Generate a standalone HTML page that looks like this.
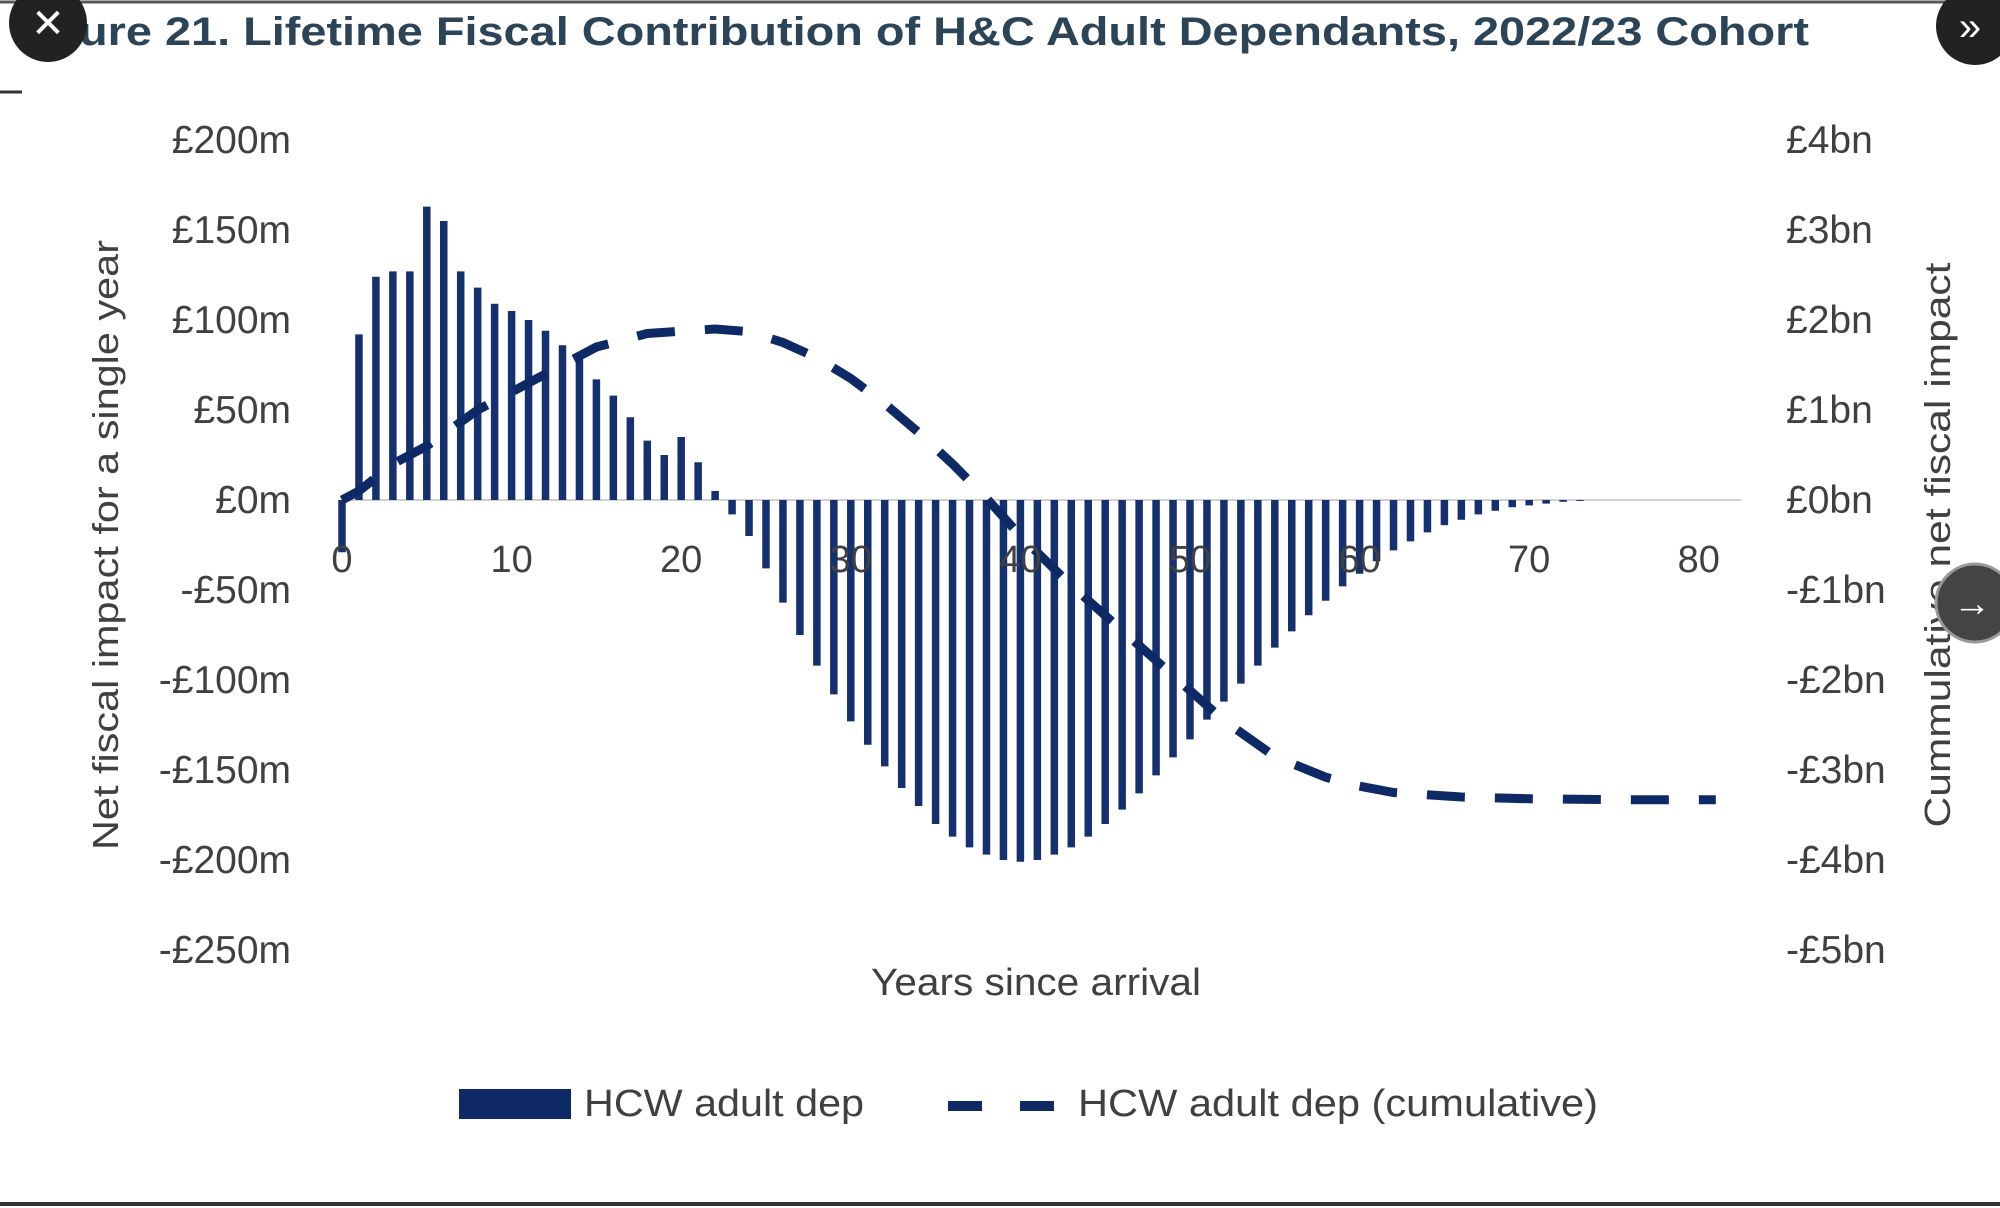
<!DOCTYPE html>
<html><head><meta charset="utf-8"><style>
html,body{margin:0;padding:0;background:#fff;}
svg{display:block}
text{font-family:"Liberation Sans",sans-serif;}
</style></head><body>
<svg id="s" width="2000" height="1208" viewBox="0 0 2000 1208" xmlns="http://www.w3.org/2000/svg">
<rect width="2000" height="1208" fill="#fff"/>
<line x1="0" y1="2" x2="2000" y2="2" stroke="#555" stroke-width="3"/>
<line x1="0" y1="1204" x2="2000" y2="1204" stroke="#333" stroke-width="4"/>
<line x1="0" y1="92" x2="22" y2="92" stroke="#333" stroke-width="3"/>
<text x="79" y="45" font-size="40" font-weight="bold" fill="#2b4457" textLength="1730" lengthAdjust="spacingAndGlyphs">ure 21. Lifetime Fiscal Contribution of H&amp;C Adult Dependants, 2022/23 Cohort</text>
<line x1="342" y1="500" x2="1741" y2="500" stroke="#d0d0d0" stroke-width="2"/>
<g id="bars" stroke="#15306e" stroke-width="7.5"></g>
<path id="cum" fill="none" stroke="#0e2a66" stroke-width="9" stroke-dasharray="38,30"/>
<g font-size="39" fill="#404040" text-anchor="end" id="ly"></g>
<g font-size="39" fill="#404040" text-anchor="start" id="ry"></g>
<g font-size="38" fill="#404040" text-anchor="middle" id="xl"></g>
<text x="1036" y="995" font-size="38" fill="#404040" text-anchor="middle" textLength="330" lengthAdjust="spacingAndGlyphs">Years since arrival</text>
<text transform="translate(118,545) rotate(-90)" font-size="36" fill="#404040" text-anchor="middle" textLength="610" lengthAdjust="spacingAndGlyphs">Net fiscal impact for a single year</text>
<text transform="translate(1950,545) rotate(-90)" font-size="36" fill="#404040" text-anchor="middle" textLength="565" lengthAdjust="spacingAndGlyphs">Cummulative net fiscal impact</text>
<rect x="459" y="1089" width="112" height="30" fill="#0e2a66"/>
<text x="584" y="1116" font-size="38" fill="#404040" textLength="280" lengthAdjust="spacingAndGlyphs">HCW adult dep</text>
<line x1="948" y1="1106" x2="1054" y2="1106" stroke="#0e2a66" stroke-width="10" stroke-dasharray="34,38"/>
<text x="1078" y="1116" font-size="38" fill="#404040" textLength="520" lengthAdjust="spacingAndGlyphs">HCW adult dep (cumulative)</text>
<circle cx="48" cy="23" r="39" fill="#222"/>
<text x="48" y="37" font-size="40" fill="#fff" text-anchor="middle">✕</text>
<circle cx="1975" cy="26" r="39" fill="#222"/>
<text x="1970" y="40" font-size="40" fill="#fff" text-anchor="middle">»</text>
<circle cx="1975" cy="603" r="39" fill="#444" stroke="#999" stroke-width="3"/>
<text x="1972" y="616" font-size="38" fill="#fff" text-anchor="middle">→</text>
</svg>
<script>
var NS="http://www.w3.org/2000/svg";
function X(y){return 342+16.96*y;}
function Y(m){return 500-1.8*m;}
var v=[-29,92,124,127,127,163,155,127,118,109,105,100,94,86,80,67,58,46,33,25,35,21,5,-8,-20,-38,-57,-75,-92,-108,-123,-136,-148,-160,-170,-180,-187,-193,-197,-200,-201,-200,-197,-193,-187,-180,-172,-163,-153,-143,-133,-122,-112,-102,-92,-82,-73,-64,-56,-48,-41,-34,-28,-23,-18,-14,-11,-8,-6,-4,-3,-2,-1,-0.5,-0.3,-0.2,-0.1,0,0,0,0];
var g=document.getElementById("bars");
for(var i=0;i<v.length;i++){if(Math.abs(v[i])<0.4)continue;var l=document.createElementNS(NS,"line");
l.setAttribute("x1",X(i));l.setAttribute("x2",X(i));l.setAttribute("y1",500);l.setAttribute("y2",Y(v[i]));g.appendChild(l);}
var c=[[0,0],[1,0.1],[3,0.4],[5,0.6],[8,1.0],[12,1.4],[15,1.7],[18,1.85],[22,1.9],[24,1.87],[26,1.75],[28,1.58],[30,1.35],[32,1.07],[34,0.75],[36,0.4],[38,0.02],[40,-0.4],[43,-0.95],[46,-1.45],[49,-1.95],[52,-2.45],[55,-2.85],[58,-3.08],[60,-3.18],[62,-3.25],[66,-3.3],[70,-3.32],[75,-3.33],[81,-3.33]];
var d="";for(var j=0;j<c.length;j++){d+=(j?"L":"M")+X(c[j][0]).toFixed(1)+","+Y(c[j][1]*50).toFixed(1);}
document.getElementById("cum").setAttribute("d",d);
var ly=document.getElementById("ly"),ry=document.getElementById("ry"),xl=document.getElementById("xl");
var lv=[200,150,100,50,0,-50,-100,-150,-200,-250];
lv.forEach(function(m){var t=document.createElementNS(NS,"text");t.setAttribute("x",291);t.setAttribute("y",Y(m)+13);
t.textContent=(m<0?"-£"+(-m):"£"+m)+"m";ly.appendChild(t);
var r=document.createElementNS(NS,"text");r.setAttribute("x",1786);r.setAttribute("y",Y(m)+13);var b=m/50;
r.textContent=(b<0?"-£"+(-b):"£"+b)+"bn";ry.appendChild(r);});
for(var k=0;k<=80;k+=10){var t=document.createElementNS(NS,"text");t.setAttribute("x",X(k));t.setAttribute("y",572);t.textContent=k;xl.appendChild(t);}
</script>
</body></html>
